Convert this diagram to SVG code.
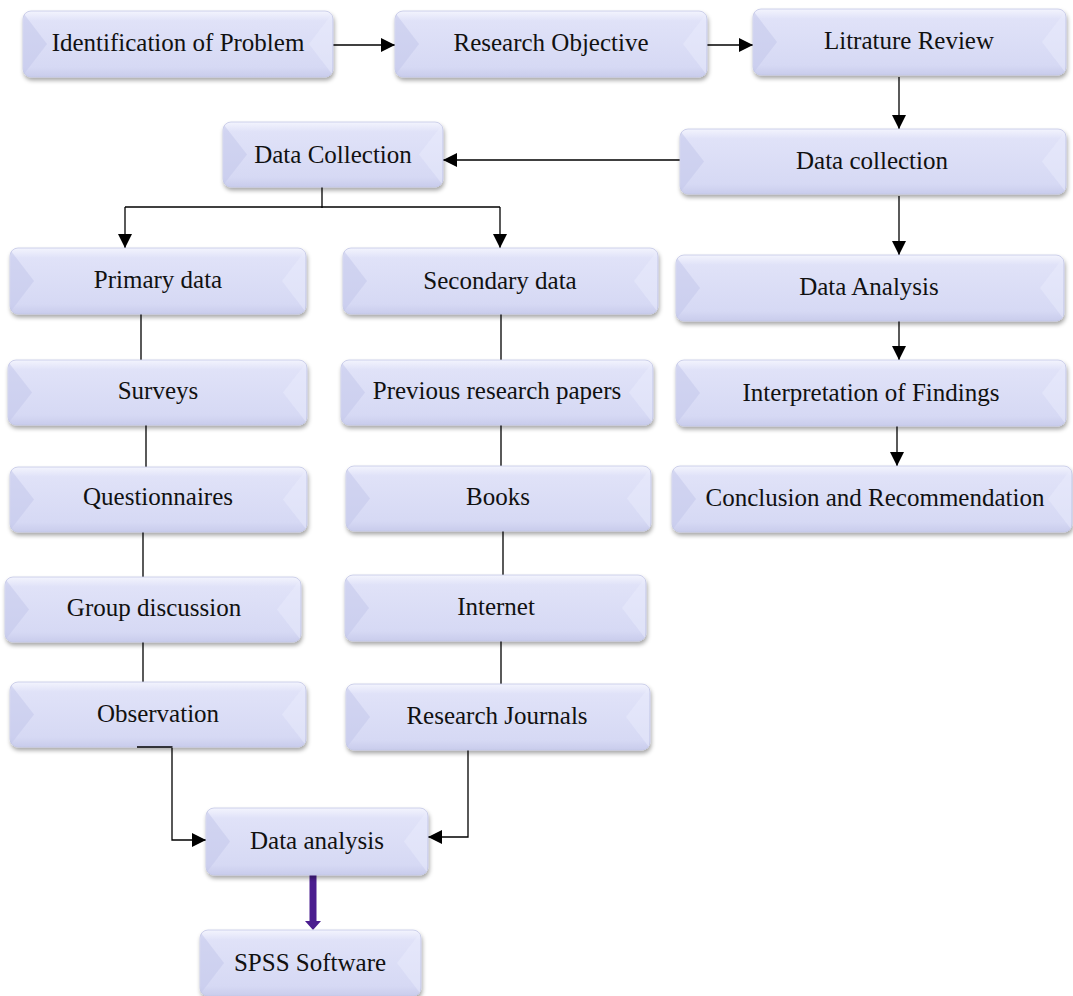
<svg xmlns="http://www.w3.org/2000/svg" width="1073" height="996" viewBox="0 0 1073 996">
<defs>
<linearGradient id="g" x1="0" y1="0" x2="0" y2="1">
<stop offset="0" stop-color="#f3f4fd"/>
<stop offset="0.15" stop-color="#e0e2f8"/>
<stop offset="0.85" stop-color="#d6d9f4"/>
<stop offset="1" stop-color="#c9ccec"/>
</linearGradient>
<filter id="sh" x="-10%" y="-20%" width="120%" height="150%">
<feDropShadow dx="1" dy="3" stdDeviation="2" flood-color="#000" flood-opacity="0.35"/>
</filter>
<marker id="ah" viewBox="0 0 14 14" refX="14" refY="7" markerWidth="14" markerHeight="14" markerUnits="userSpaceOnUse" orient="auto">
<path d="M0,0 L14,7 L0,14 Z" fill="#000"/>
</marker>
<style>
.box{fill:url(#g);stroke:#c3c6e6;stroke-width:0.8;filter:url(#sh)}
.bl{fill:#c2c5ea;opacity:0.5}
.br{fill:#eceefc;opacity:0.45}
.t{font-family:"Liberation Serif",serif;font-size:25px;text-anchor:middle;fill:#111}
.c{fill:none;stroke:#000;stroke-width:1.3}
.ca{fill:none;stroke:#000;stroke-width:1.3;marker-end:url(#ah)}
</style>
</defs>
<rect width="1073" height="996" fill="#fff"/>
<g id="connectors">
<path class="ca" d="M333,45 H395"/>
<path class="ca" d="M707,45 H753"/>
<path class="ca" d="M899,77 V129"/>
<path class="ca" d="M680,160 H443"/>
<path class="ca" d="M899,196 V255"/>
<path class="ca" d="M899,321 V360"/>
<path class="ca" d="M897,426 V466"/>
<path class="c" d="M322,187 V208"/>
<path class="c" d="M125,207 H500"/>
<path class="ca" d="M125,207 V248"/>
<path class="ca" d="M500,207 V248"/>
<path class="c" d="M141,314 V360"/>
<path class="c" d="M146,425 V467"/>
<path class="c" d="M143,532 V577"/>
<path class="c" d="M143,642 V682"/>
<path class="c" d="M501,314 V360"/>
<path class="c" d="M501,425 V466"/>
<path class="c" d="M503,531 V575"/>
<path class="c" d="M501,641 V684"/>
<path class="ca" d="M172,748 V840 H206"/>
<path class="ca" d="M468,750 V837 H428"/>
<path d="M309.5,873 H316.5 V921 H321 L313,930 L305,921 H309.5 Z" fill="#4b1e8f"/>
</g>
<g id="n1"><rect class="box" x="23" y="11" width="310" height="66" rx="8"/><polygon class="bl" points="24,14 47,44 24,74"/><polygon class="br" points="332,14 309,44 332,74"/><text class="t" x="178" y="51">Identification of Problem</text></g>
<g id="n2"><rect class="box" x="395" y="11" width="312" height="66" rx="8"/><polygon class="bl" points="396,14 419,44 396,74"/><polygon class="br" points="706,14 683,44 706,74"/><text class="t" x="551" y="51">Research Objective</text></g>
<g id="n3"><rect class="box" x="753" y="9" width="313" height="66" rx="8"/><polygon class="bl" points="754,12 777,42 754,72"/><polygon class="br" points="1065,12 1042,42 1065,72"/><text class="t" x="909" y="49">Litrature Review</text></g>
<g id="n4"><rect class="box" x="223" y="122" width="220" height="65" rx="8"/><polygon class="bl" points="224,125 247,154.5 224,184"/><polygon class="br" points="442,125 419,154.5 442,184"/><text class="t" x="333" y="163">Data Collection</text></g>
<g id="n5"><rect class="box" x="680" y="129" width="386" height="65" rx="8"/><polygon class="bl" points="681,132 704,161.5 681,191"/><polygon class="br" points="1065,132 1042,161.5 1065,191"/><text class="t" x="872" y="169">Data collection</text></g>
<g id="n6"><rect class="box" x="676" y="255" width="388" height="66" rx="8"/><polygon class="bl" points="677,258 700,288 677,318"/><polygon class="br" points="1063,258 1040,288 1063,318"/><text class="t" x="869" y="295">Data Analysis</text></g>
<g id="n7"><rect class="box" x="676" y="360" width="390" height="66" rx="8"/><polygon class="bl" points="677,363 700,393 677,423"/><polygon class="br" points="1065,363 1042,393 1065,423"/><text class="t" x="871" y="401">Interpretation of Findings</text></g>
<g id="n8"><rect class="box" x="672" y="466" width="400" height="66" rx="8"/><polygon class="bl" points="673,469 696,499 673,529"/><polygon class="br" points="1071,469 1048,499 1071,529"/><text class="t" x="875" y="506">Conclusion and Recommendation</text></g>
<g id="n9"><rect class="box" x="10" y="248" width="296" height="66" rx="8"/><polygon class="bl" points="11,251 34,281 11,311"/><polygon class="br" points="305,251 282,281 305,311"/><text class="t" x="158" y="288">Primary data</text></g>
<g id="n10"><rect class="box" x="343" y="248" width="315" height="66" rx="8"/><polygon class="bl" points="344,251 367,281 344,311"/><polygon class="br" points="657,251 634,281 657,311"/><text class="t" x="500" y="289">Secondary data</text></g>
<g id="n11"><rect class="box" x="8" y="360" width="299" height="65" rx="8"/><polygon class="bl" points="9,363 32,392.5 9,422"/><polygon class="br" points="306,363 283,392.5 306,422"/><text class="t" x="158" y="399">Surveys</text></g>
<g id="n12"><rect class="box" x="341" y="360" width="312" height="65" rx="8"/><polygon class="bl" points="342,363 365,392.5 342,422"/><polygon class="br" points="652,363 629,392.5 652,422"/><text class="t" x="497" y="399">Previous research papers</text></g>
<g id="n13"><rect class="box" x="10" y="467" width="297" height="65" rx="8"/><polygon class="bl" points="11,470 34,499.5 11,529"/><polygon class="br" points="306,470 283,499.5 306,529"/><text class="t" x="158" y="505">Questionnaires</text></g>
<g id="n14"><rect class="box" x="346" y="466" width="305" height="65" rx="8"/><polygon class="bl" points="347,469 370,498.5 347,528"/><polygon class="br" points="650,469 627,498.5 650,528"/><text class="t" x="498" y="505">Books</text></g>
<g id="n15"><rect class="box" x="5" y="577" width="296" height="65" rx="8"/><polygon class="bl" points="6,580 29,609.5 6,639"/><polygon class="br" points="300,580 277,609.5 300,639"/><text class="t" x="154" y="616">Group discussion</text></g>
<g id="n16"><rect class="box" x="345" y="575" width="301" height="66" rx="8"/><polygon class="bl" points="346,578 369,608 346,638"/><polygon class="br" points="645,578 622,608 645,638"/><text class="t" x="496" y="615">Internet</text></g>
<g id="n17"><rect class="box" x="10" y="682" width="296" height="65" rx="8"/><polygon class="bl" points="11,685 34,714.5 11,744"/><polygon class="br" points="305,685 282,714.5 305,744"/><text class="t" x="158" y="722">Observation</text></g>
<g id="n18"><rect class="box" x="346" y="684" width="304" height="66" rx="8"/><polygon class="bl" points="347,687 370,717 347,747"/><polygon class="br" points="649,687 626,717 649,747"/><text class="t" x="497" y="724">Research Journals</text></g>
<g id="n19"><rect class="box" x="206" y="808" width="222" height="67" rx="8"/><polygon class="bl" points="207,811 230,841.5 207,872"/><polygon class="br" points="427,811 404,841.5 427,872"/><text class="t" x="317" y="849">Data analysis</text></g>
<g id="n20"><rect class="box" x="200" y="930" width="221" height="66" rx="8"/><polygon class="bl" points="201,933 224,963 201,993"/><polygon class="br" points="420,933 397,963 420,993"/><text class="t" x="310" y="971">SPSS Software</text></g>
<path class="c" d="M137,747 H172.5"/>
</svg>
